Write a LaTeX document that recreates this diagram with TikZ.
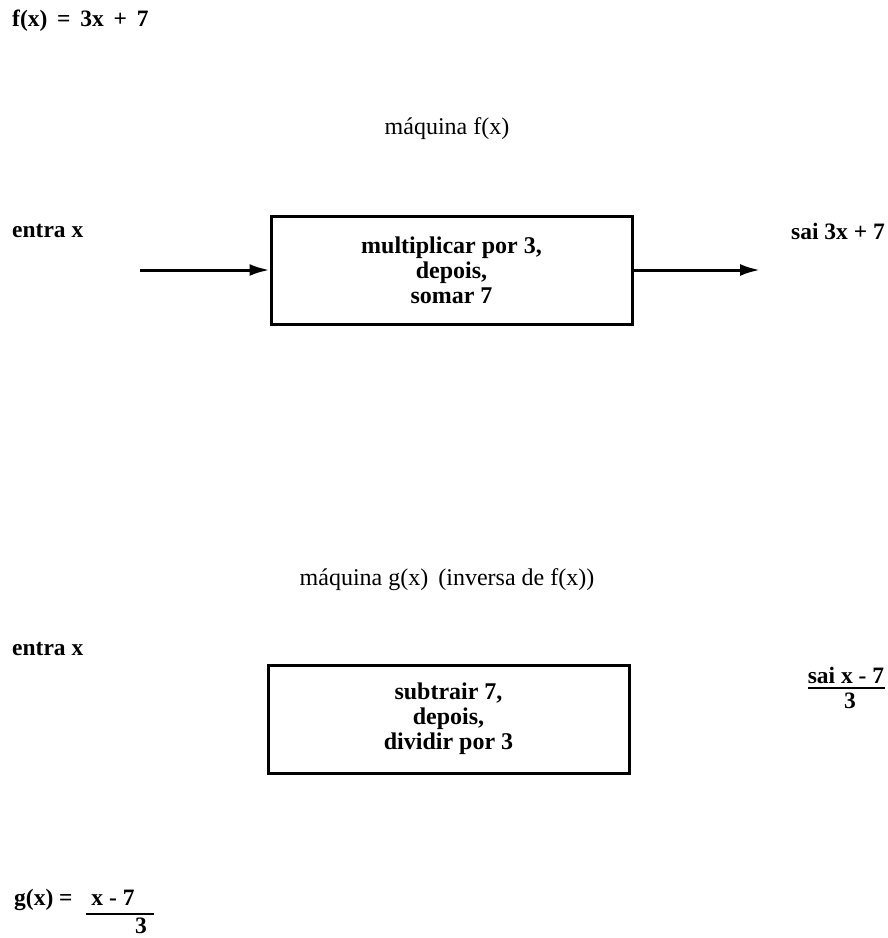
\documentclass[tikz,border=0pt]{standalone}
\usepackage{fontspec}
\setmainfont{Liberation Serif}
\usetikzlibrary{arrows.meta}
\begin{document}
\begin{tikzpicture}[x=1pt,y=-1pt,
  lbl/.style={font=\fontsize{23.5}{25}\selectfont\bfseries, inner sep=0pt},
  ttl/.style={font=\fontsize{24}{26}\selectfont, inner sep=0pt},
  machine/.style={draw, line width=3pt, minimum width=361pt, minimum height=108pt, inner sep=0pt, align=center, font=\fontsize{24}{25}\selectfont\bfseries},
  flow/.style={line width=3pt, -{Latex[length=20pt,width=12pt]}},
  bar/.style={line width=2pt}]
\useasboundingbox (0,0) rectangle (888,938);
\fill[white] (0,0) rectangle (888,938);
% top formula
\node[lbl, anchor=west] (fdef) at (12,21) {f(x)\, =\, 3x\, +\, 7};
% machine f
\node[ttl] (t1) at (447,129) {máquina f(x)};
\node[lbl, anchor=west] (in1) at (12,231) {entra x};
\node[machine] (box1) at (451.5,270) {multiplicar por 3,\\depois,\\somar 7};
\coordinate (a1) at (140,270);
\coordinate (a2) at (760,270);
\draw[flow] (a1) -- (box1.west);
\draw[flow] (box1.east) -- (a2);
\node[lbl, anchor=east] (out1) at (885,231) {sai 3x + 7};
% machine g
\node[ttl] (t2) at (447,580) {máquina g(x)\, (inversa de f(x))};
\node[lbl, anchor=west] (in2) at (12,649) {entra x};
\node[machine] (box2) at (448.5,719) {subtrair 7,\\depois,\\dividir por 3};
\node[lbl] (out2n) at (846,675) {sai x - 7};
\coordinate (b1) at (808,688);
\coordinate (b2) at (885,688);
\draw[bar] (b1) -- (b2);
\node[lbl] (out2d) at (850,701) {3};
% bottom formula
\node[lbl, anchor=west] (gdef) at (14,900) {g(x) =};
\node[lbl] (gnum) at (113,898) {x - 7};
\coordinate (c1) at (86,914);
\coordinate (c2) at (154,914);
\draw[bar] (c1) -- (c2);
\node[lbl] (gden) at (141,926) {3};
\end{tikzpicture}
\end{document}
